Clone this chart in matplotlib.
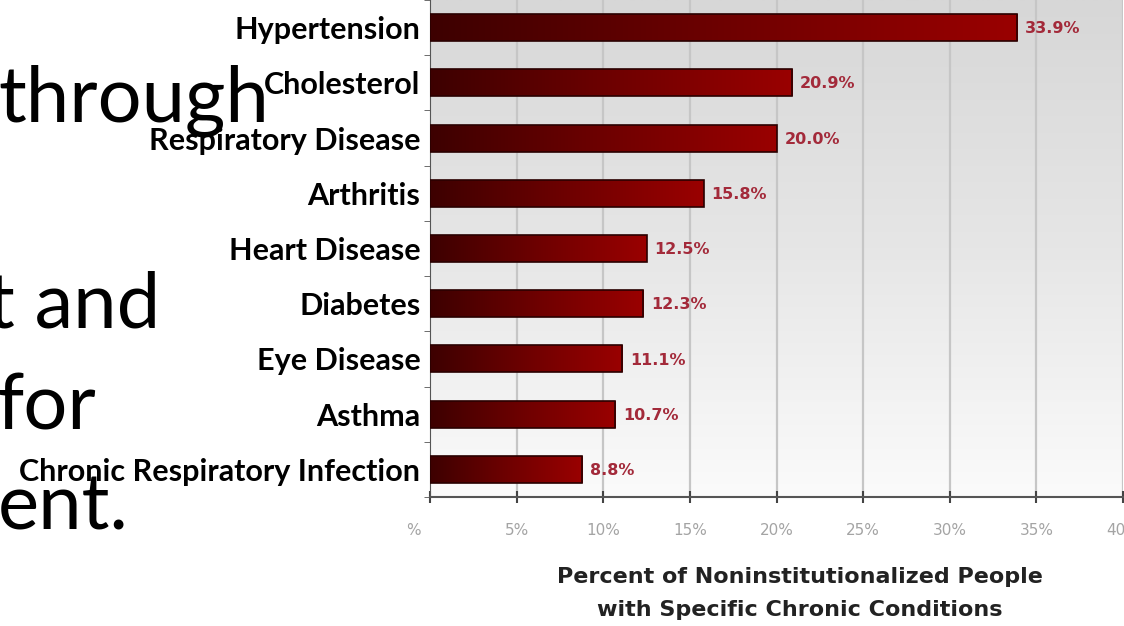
import numpy as np
import matplotlib.pyplot as plt
from matplotlib.colors import LinearSegmentedColormap
from matplotlib.transforms import ScaledTranslation

# chart data, top bar first
conditions = ["Hypertension", "Cholesterol", "Respiratory Disease", "Arthritis",
              "Heart Disease", "Diabetes", "Eye Disease", "Asthma",
              "Chronic Respiratory Infection"]
percents = [33.9, 20.9, 20.0, 15.8, 12.5, 12.3, 11.1, 10.7, 8.8]
xticks = [0, 5, 10, 15, 20, 25, 30, 35, 40]
xtick_labels = ["%", "5%", "10%", "15%", "20%", "25%", "30%", "35%", "40%"]

# slide text partly hidden behind the chart
slide_lines = ["through", "t and", "for", "ent."]

W, H = 1124, 626
fig = plt.figure(figsize=(W / 100, H / 100), dpi=100)
fig.patch.set_facecolor("white")

# big slide text behind
line_pos = [(-2, 122), (-13, 327), (-4, 429), (-2, 530)]
for txt, (px, py) in zip(slide_lines, line_pos):
    fig.text(px / W, 1 - py / H, txt, fontsize=56, family="Lato",
             color="black", va="baseline", ha="left", zorder=0)

ax = fig.add_axes([430 / W, 1 - 497 / H, 693 / W, 497 / H])
ax.set_zorder(2)
ax.set_xlim(0, 40)
ax.set_ylim(len(conditions) - 0.5, -0.5)

# gray background gradient, light at the bottom
bg = LinearSegmentedColormap.from_list("bg", ["#d7d7d7", "#e6e6e6", "#fbfbfb"])
ax.imshow(np.linspace(0, 1, 256).reshape(-1, 1), cmap=bg, aspect="auto",
          extent=[0, 40, len(conditions) - 0.5, -0.5], zorder=0)

for x in xticks[1:]:
    ax.axvline(x, color="#c6c6c6", lw=1.6, zorder=1)

ypos = np.arange(len(conditions))
bars = ax.barh(ypos, percents, height=0.49, facecolor="none",
               edgecolor="#2a0000", linewidth=1.2, zorder=4)

barcm = LinearSegmentedColormap.from_list("bar", ["#3d0000", "#6e0000", "#9a0000"])
grad = np.linspace(0, 1, 256).reshape(1, -1)
for b, v, y in zip(bars, percents, ypos):
    im = ax.imshow(grad, cmap=barcm, aspect="auto",
                   extent=[0, v, y + 0.245, y - 0.245], zorder=3)
    im.set_clip_path(b)
    ax.text(v + 0.45, y + 0.02, f"{v:.1f}%", color="#a32a3a", fontsize=11.5,
            fontweight="bold", va="center", ha="left", zorder=5)

ax.set_xlim(0, 40)
ax.set_ylim(len(conditions) - 0.5, -0.5)

# category labels on the left
ax.set_yticks(ypos)
ax.set_yticklabels(conditions, family="Lato", fontweight="bold", fontsize=22,
                   color="black")
ax.tick_params(axis="y", length=0, pad=7)
ax.set_yticks(np.arange(len(conditions) + 1) - 0.5, minor=True)
ax.tick_params(axis="y", which="minor", length=4, color="#555555", direction="out")

ax.set_xticks(xticks)
ax.set_xticklabels(xtick_labels, fontsize=11, color="#a4a4a4")
ax.tick_params(axis="x", length=8, direction="inout", color="#444444",
               width=1.5, pad=15)
lbl0 = ax.get_xticklabels()[0]
lbl0.set_transform(lbl0.get_transform() + ScaledTranslation(-12 / 72, 0, fig.dpi_scale_trans))

for s in ["top", "right"]:
    ax.spines[s].set_visible(False)
ax.spines["left"].set_color("#555555")
ax.spines["bottom"].set_color("#555555")
ax.spines["bottom"].set_linewidth(1.5)

fig.text(800 / W, 1 - 577 / H, "Percent of Noninstitutionalized People",
         fontweight="bold", fontsize=16,
         color="#222222", ha="center", va="center")
fig.text(800 / W, 1 - 610 / H, "with Specific Chronic Conditions",
         fontweight="bold", fontsize=16,
         color="#222222", ha="center", va="center")

fig.savefig("out.png", dpi=100)
